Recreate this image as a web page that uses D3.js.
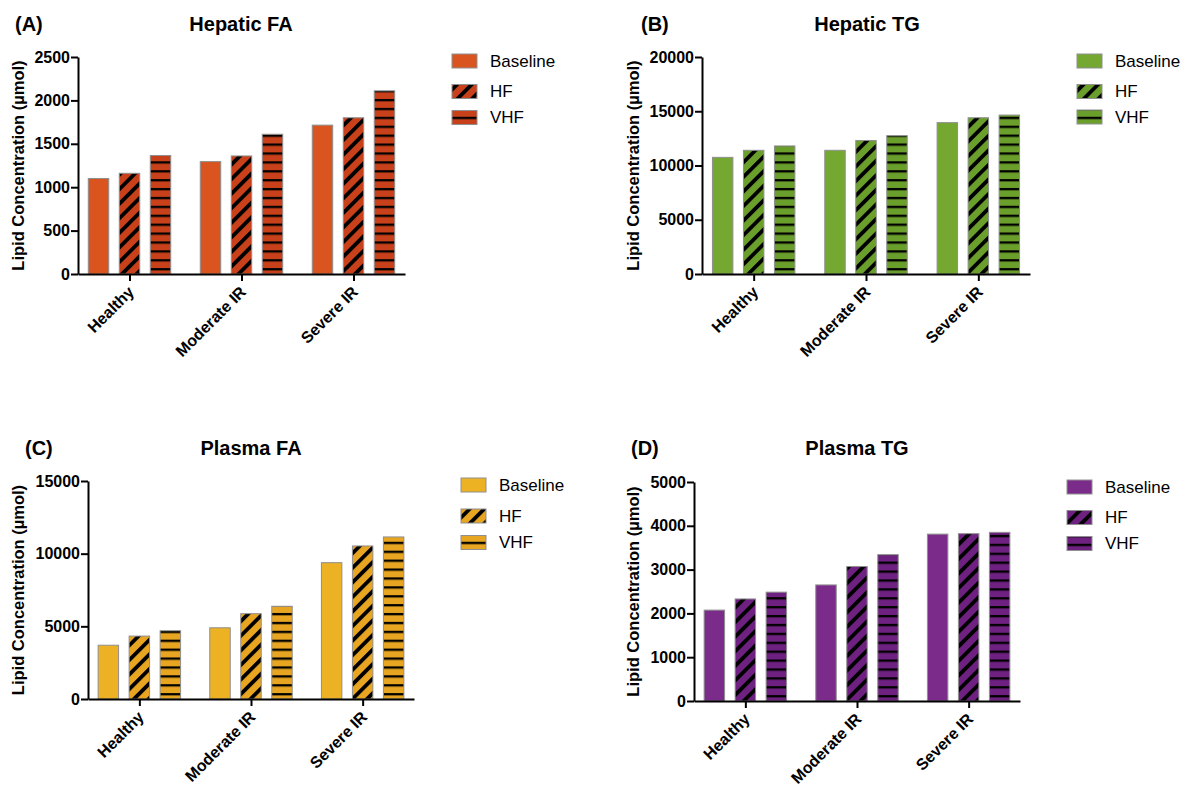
<!DOCTYPE html>
<html>
<head>
<meta charset="utf-8">
<title>Lipid Concentration</title>
<script src="https://d3js.org/d3.v7.min.js"></script>
<style>
  body { margin: 0; background: #fff; }
  text { font-family: "Liberation Sans", Arial, sans-serif; }
</style>
</head>
<body>
<script>

// ---- data ----
const categories = ["Healthy", "Moderate IR", "Severe IR"];
const seriesNames = ["Baseline", "HF", "VHF"];

// values[category][series]
const hepaticFAValues = [[1100, 1160, 1365], [1295, 1360, 1610], [1715, 1800, 2110]];
const hepaticTGValues = [[10750, 11400, 11800], [11400, 12300, 12750], [13950, 14400, 14650]];
const plasmaFAValues  = [[3700, 4330, 4700], [4900, 5870, 6380], [9380, 10530, 11150]];
const plasmaTGValues  = [[2075, 2330, 2485], [2650, 3070, 3340], [3810, 3820, 3850]];

const hepaticFATicks = [0, 500, 1000, 1500, 2000, 2500];
const hepaticTGTicks = [0, 5000, 10000, 15000, 20000];
const plasmaFATicks  = [0, 5000, 10000, 15000];
const plasmaTGTicks  = [0, 1000, 2000, 3000, 4000, 5000];

const panelLetters = ["(A)", "(B)", "(C)", "(D)"];
const panelTitles  = ["Hepatic FA", "Hepatic TG", "Plasma FA", "Plasma TG"];
const yLabel = "Lipid Concentration (\u00b5mol)";

// ---- layout / style ----
const panels = [
  { values: hepaticFAValues, ticks: hepaticFATicks, x0: 78,  x1: 405,  yTop: 57,  yBot: 274,
    base: "#d9541e", hatch: "#c9411b", letterX: 15,  titleX: 241, titleY: 31,
    labelX: 18,  legX: 452,  legY: [61, 91.5, 117.5] },
  { values: hepaticTGValues, ticks: hepaticTGTicks, x0: 702, x1: 1030, yTop: 57,  yBot: 274,
    base: "#74a830", hatch: "#6b9f2b", letterX: 641, titleX: 867, titleY: 31,
    labelX: 633, legX: 1077, legY: [61, 91.5, 117] },
  { values: plasmaFAValues,  ticks: plasmaFATicks,  x0: 88,  x1: 414,  yTop: 481, yBot: 699,
    base: "#edb124", hatch: "#e7a521", letterX: 25,  titleX: 251, titleY: 455,
    labelX: 18,  legX: 461,  legY: [485, 516, 542.5] },
  { values: plasmaTGValues,  ticks: plasmaTGTicks,  x0: 694, x1: 1020, yTop: 482, yBot: 701,
    base: "#7b2c8b", hatch: "#6e2180", letterX: 631, titleX: 857, titleY: 455,
    labelX: 633, legX: 1067, legY: [487, 517.5, 543.5] }
];

const svg = d3.select("body").append("svg")
    .attr("width", 1181)
    .attr("height", 786)
    .style("display", "block");

const defs = svg.append("defs");

panels.forEach(function(p, i) {
  // hatch patterns for this colour
  const diag = defs.append("pattern")
      .attr("id", "diag" + i)
      .attr("patternUnits", "userSpaceOnUse")
      .attr("width", 10.3).attr("height", 10.3)
      .attr("patternTransform", "rotate(45)");
  diag.append("rect").attr("width", 10.3).attr("height", 10.3).attr("fill", p.hatch);
  diag.append("rect").attr("width", 3.8).attr("height", 10.3).attr("fill", "#000");

  const horiz = defs.append("pattern")
      .attr("id", "horiz" + i)
      .attr("patternUnits", "userSpaceOnUse")
      .attr("width", 10).attr("height", 8.9)
      .attr("y", p.yBot);
  horiz.append("rect").attr("width", 10).attr("height", 8.9).attr("fill", p.hatch);
  horiz.append("rect").attr("y", 3).attr("width", 10).attr("height", 2.3).attr("fill", "#000");

  const fills = [p.base, "url(#diag" + i + ")", "url(#horiz" + i + ")"];

  const x = d3.scalePoint().domain(categories).range([p.x0, p.x1]).padding(0.46);
  const xs = d3.scaleBand().domain(seriesNames).range([-46.5, 46.5])
      .paddingInner(0.34).paddingOuter(0.17);
  const y = d3.scaleLinear().domain([0, d3.max(p.ticks)]).range([p.yBot, p.yTop]);

  const g = svg.append("g");

  // bars
  categories.forEach(function(c, ci) {
    g.selectAll(null)
      .data(p.values[ci])
      .enter()
      .append("rect")
      .attr("x", (d, si) => x(c) + xs(seriesNames[si]))
      .attr("y", d => y(d))
      .attr("width", xs.bandwidth())
      .attr("height", d => y(0) - y(d))
      .attr("fill", (d, si) => fills[si])
      .attr("stroke", "#8f8f8f")
      .attr("stroke-width", 1);
  });

  // y axis
  const ya = g.append("g")
      .attr("transform", `translate(${p.x0},0)`)
      .call(d3.axisLeft(y).tickValues(p.ticks).tickFormat(d3.format("d"))
        .tickSize(7).tickSizeOuter(0).tickPadding(1));
  ya.selectAll("path, line").attr("stroke", "#000").attr("stroke-width", 2);
  ya.selectAll("text").attr("fill", "#000")
      .style("font-size", "16px").style("font-weight", "bold")
      .style("font-family", "'Liberation Sans', Arial, sans-serif");

  // x axis
  const xa = g.append("g")
      .attr("transform", `translate(0,${p.yBot})`)
      .call(d3.axisBottom(x).tickSize(7).tickSizeOuter(0));
  xa.selectAll("path, line").attr("stroke", "#000").attr("stroke-width", 2);
  xa.selectAll("text")
      .attr("fill", "#000")
      .attr("text-anchor", "end")
      .attr("x", 0).attr("y", 0).attr("dy", 0)
      .attr("transform", "translate(5,19) rotate(-45)")
      .style("font-size", "16px").style("font-weight", "bold")
      .style("font-family", "'Liberation Sans', Arial, sans-serif");

  // y label
  g.append("text")
      .attr("transform", `translate(${p.labelX},${(p.yTop + p.yBot) / 2}) rotate(-90)`)
      .attr("text-anchor", "middle")
      .attr("dominant-baseline", "central")
      .style("font-size", "16.5px").style("font-weight", "bold")
      .text(yLabel);

  // title + letter
  g.append("text")
      .attr("x", p.titleX).attr("y", p.titleY)
      .attr("text-anchor", "middle")
      .style("font-size", "20px").style("font-weight", "bold")
      .text(panelTitles[i]);
  g.append("text")
      .attr("x", p.letterX).attr("y", p.titleY)
      .style("font-size", "20px").style("font-weight", "bold")
      .text(panelLetters[i]);

  // legend
  seriesNames.forEach(function(s, si) {
    g.append("rect")
      .attr("x", p.legX).attr("y", p.legY[si] - 7)
      .attr("width", 25).attr("height", 14)
      .attr("fill", fills[si])
      .attr("stroke", "#8f8f8f").attr("stroke-width", 1);
    g.append("text")
      .attr("x", p.legX + 38).attr("y", p.legY[si])
      .attr("dominant-baseline", "central")
      .style("font-size", "17px")
      .text(s);
  });
});

</script>
</body>
</html>
